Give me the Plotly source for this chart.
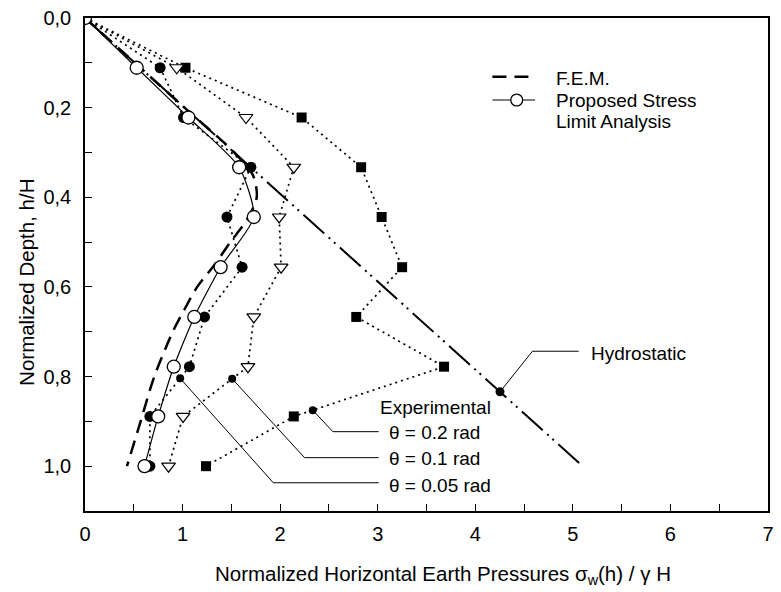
import numpy as np
import plotly.graph_objects as go

# Normalized depth h/H of the measurement levels
depth = [0.0, 0.111, 0.222, 0.333, 0.444, 0.556, 0.667, 0.778, 0.889, 1.0]

# Normalized horizontal earth pressure, sigma_w(h) / (gamma H)
proposed = [0.0, 0.53, 1.06, 1.58, 1.73, 1.39, 1.12, 0.91, 0.75, 0.61]
exp_005 = [0.0, 0.77, 1.01, 1.70, 1.455, 1.61, 1.225, 1.07, 0.665, 0.665]
exp_01 = [0.0, 0.94, 1.65, 2.14, 1.99, 2.01, 1.73, 1.67, 1.005, 0.856]
exp_02 = [0.0, 1.03, 2.22, 2.83, 3.04, 3.25, 2.78, 3.68, 2.14, 1.24]

# Finite element solution
fem_depth = [0.0, 0.1, 0.2, 0.3, 0.35, 0.4, 0.45, 0.5, 0.55, 0.6, 0.65, 0.7, 0.8, 0.9, 1.0]
fem = [0.0, 0.51, 1.02, 1.53, 1.72, 1.76, 1.66, 1.49, 1.33, 1.15, 1.02, 0.90, 0.71, 0.57, 0.43]

# Hydrostatic distribution
hydro_depth = [0.0, 1.0]
hydro = [0.0, 5.1]

x_ticks = [0, 1, 2, 3, 4, 5, 6, 7]

W, H = 781, 592
ML, MR, MT, MB = 85, 7, 15, 81
PW, PH = W - ML - MR, H - MT - MB

FONT = "Liberation Sans, Arial, sans-serif"
BLACK = "#000000"
DOT = "2px,4px"
FEM_DASH = "14px,8px"


def px_to_paper(px, py):
    return (px - ML) / PW, 1 - (py - MT) / PH


fig = go.Figure()

fig.add_trace(go.Scatter(
    x=hydro, y=hydro_depth, mode="lines", showlegend=False,
    line=dict(color=BLACK, width=2, dash="28px,6px,2px,5px,2px,6px"),
))
fig.add_trace(go.Scatter(
    x=fem, y=fem_depth, mode="lines", name="F.E.M.", showlegend=False,
    line=dict(color=BLACK, width=2.5, dash=FEM_DASH, shape="spline", smoothing=0.8),
))
fig.add_trace(go.Scatter(
    x=exp_02, y=depth, mode="lines+markers", showlegend=False,
    line=dict(color=BLACK, width=1.7, dash=DOT),
    marker=dict(symbol="square", size=10, color=BLACK),
))
fig.add_trace(go.Scatter(
    x=exp_01, y=depth, mode="lines+markers", showlegend=False,
    line=dict(color=BLACK, width=1.7, dash=DOT),
    marker=dict(symbol="triangle-down", size=12, color="white",
                line=dict(color=BLACK, width=1.2)),
))
fig.add_trace(go.Scatter(
    x=exp_005, y=depth, mode="lines+markers", showlegend=False,
    line=dict(color=BLACK, width=1.7, dash=DOT),
    marker=dict(symbol="circle", size=11, color=BLACK),
))
fig.add_trace(go.Scatter(
    x=proposed, y=depth, mode="lines+markers", showlegend=False,
    name="Proposed Stress Limit Analysis",
    line=dict(color=BLACK, width=1.2, shape="spline", smoothing=0.6),
    marker=dict(symbol="circle", size=13, color="white",
                line=dict(color=BLACK, width=1.3)),
))

txt_font = dict(family=FONT, size=19, color=BLACK)
title_font = dict(family=FONT, size=20.5, color=BLACK)
shapes = []
annotations = []

# Callout anchors sit on the curves they label
callouts = [
    # (curve x, curve depth, anchor depth, kink, label, label depth)
    (exp_02, depth, 0.875, (2.54, 0.923), "θ = 0.2 rad", 0.925),
    (exp_01, depth, 0.805, (2.25, 0.981), "θ = 0.1 rad", 0.983),
    (exp_005, depth, 0.804, (1.93, 1.037), "θ = 0.05 rad", 1.042),
]
line_end = 3.01
for cx, cy, d, kink, label, ty in callouts:
    ax = float(np.interp(d, cy, cx))
    fig.add_trace(go.Scatter(x=[ax], y=[d], mode="markers", showlegend=False,
                             marker=dict(symbol="circle", size=8, color=BLACK)))
    shapes.append(dict(type="path", xref="x", yref="y",
                       path=f"M {ax},{d} L {kink[0]},{kink[1]} L {line_end},{kink[1]}",
                       line=dict(color=BLACK, width=1)))
    annotations.append(dict(x=3.10, y=ty, xref="x", yref="y", text=label,
                            showarrow=False, xanchor="left", yanchor="middle",
                            font=txt_font))

annotations.append(dict(x=3.0, y=0.870, xref="x", yref="y", text="Experimental",
                        showarrow=False, xanchor="left", yanchor="middle",
                        font=txt_font))

# Hydrostatic label
hd = 0.834
hx = float(np.interp(hd, hydro_depth, hydro))
fig.add_trace(go.Scatter(x=[hx], y=[hd], mode="markers", showlegend=False,
                         marker=dict(symbol="circle", size=9, color=BLACK)))
shapes.append(dict(type="path", xref="x", yref="y",
                   path=f"M {hx},{hd} L 4.586,0.7435 L 5.06,0.7435",
                   line=dict(color=BLACK, width=1)))
annotations.append(dict(x=5.17, y=0.749, xref="x", yref="y", text="Hydrostatic",
                        showarrow=False, xanchor="left", yanchor="middle",
                        font=txt_font))

# Key (legend) in the upper right
k0 = px_to_paper(496, 74)
k1 = px_to_paper(539, 74)
shapes.append(dict(type="line", xref="paper", yref="paper", x0=k0[0], y0=k0[1],
                   x1=k1[0], y1=k1[1], line=dict(color=BLACK, width=2.5, dash=FEM_DASH)))
p0 = px_to_paper(496, 97.5)
p1 = px_to_paper(539, 97.5)
shapes.append(dict(type="line", xref="paper", yref="paper", x0=p0[0], y0=p0[1],
                   x1=p1[0], y1=p1[1], line=dict(color=BLACK, width=1.2)))
c0 = px_to_paper(514.5, 91.5)
c1 = px_to_paper(526.5, 103.5)
shapes.append(dict(type="circle", xref="paper", yref="paper", x0=c0[0], y0=c1[1],
                   x1=c1[0], y1=c0[1], fillcolor="white",
                   line=dict(color=BLACK, width=1.3)))
for label, ypx in [("F.E.M.", 76), ("Proposed Stress", 97.5), ("Limit Analysis", 119)]:
    tp = px_to_paper(558, ypx)
    annotations.append(dict(x=tp[0], y=tp[1], xref="paper", yref="paper", text=label,
                            showarrow=False, xanchor="left", yanchor="middle",
                            font=txt_font))

# Axis titles
xt = px_to_paper(446, 575)
annotations.append(dict(x=xt[0], y=xt[1], xref="paper", yref="paper",
                        text="Normalized Horizontal Earth Pressures σ<sub>w</sub>(h) / γ H",
                        showarrow=False, xanchor="center", yanchor="middle", font=title_font))
yt = px_to_paper(26, 281)
annotations.append(dict(x=yt[0], y=yt[1], xref="paper", yref="paper",
                        text="Normalized Depth, h/H", textangle=-90,
                        showarrow=False, xanchor="center", yanchor="middle", font=title_font))

fig.update_layout(
    width=W, height=H,
    margin=dict(l=ML, r=MR, t=MT, b=MB),
    paper_bgcolor="white", plot_bgcolor="white",
    separators=",.",
    font=txt_font,
    shapes=shapes,
    annotations=annotations,
    showlegend=False,
)

axis_common = dict(
    ticks="inside", ticklen=7, tickwidth=1.2, tickcolor=BLACK,
    showline=True, linecolor=BLACK, linewidth=1.5, mirror=True,
    showgrid=False, zeroline=False, tickfont=dict(family=FONT, size=20, color=BLACK),
)
fig.update_xaxes(
    range=[0, 7], tickvals=x_ticks, ticklabelstandoff=4,
    minor=dict(dtick=0.5, ticks="inside", ticklen=7, tickwidth=1.2, tickcolor=BLACK),
    **axis_common,
)
fig.update_yaxes(
    range=[1.1, 0], dtick=0.2, tick0=0, tickformat=".1f", ticklabelstandoff=8,
    minor=dict(dtick=0.1, ticks="inside", ticklen=7, tickwidth=1.2, tickcolor=BLACK),
    **axis_common,
)

fig.write_html("out.html")
